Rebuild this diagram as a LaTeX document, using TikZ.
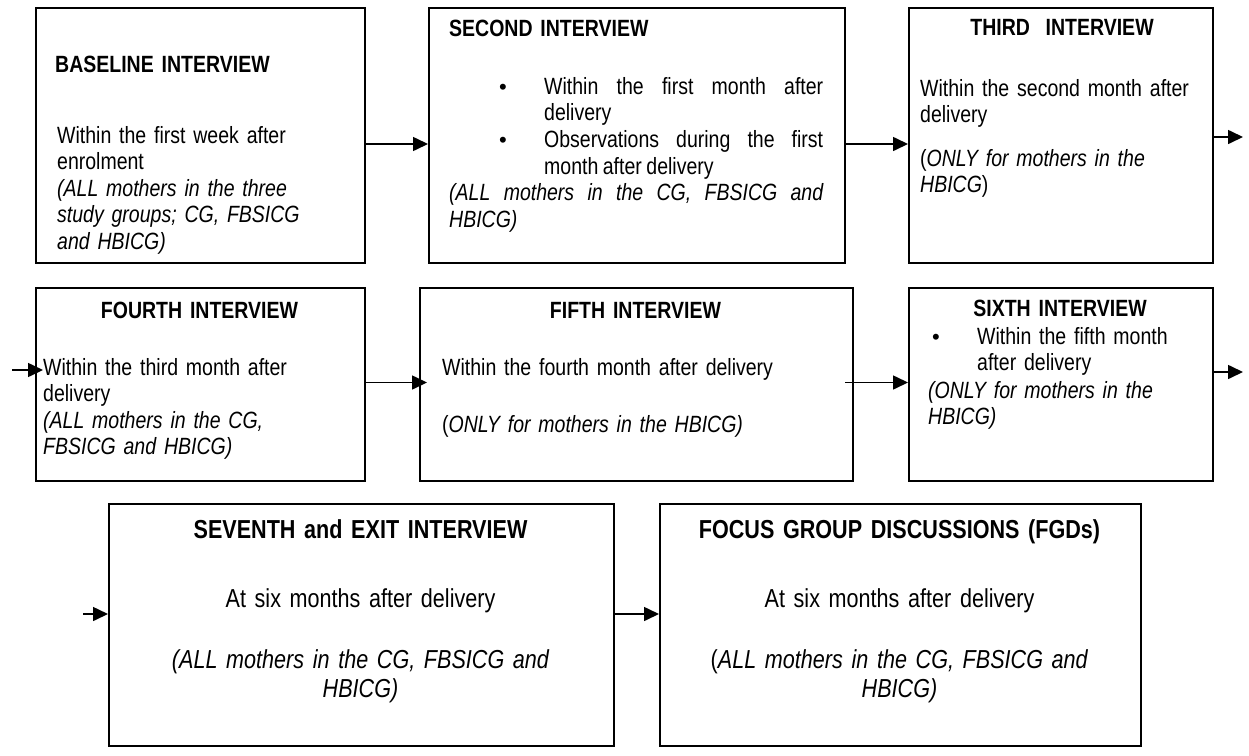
\documentclass[tikz,border=0pt]{standalone}
\usepackage{fontspec}
\setmainfont{Liberation Sans}[FakeStretch=0.83, WordSpace=0.83]
\newfontfamily\dotfont{Liberation Sans}
\usetikzlibrary{arrows.meta,calc}
\newcommand\fsmall{\fontsize{23.5}{26.6}\selectfont}
\newcommand\flarge{\fontsize{26}{29}\selectfont}
\newcommand\itemdot{\llap{\hbox to 45pt{\dotfont\fontsize{22}{22}\selectfont\char"2022\hfil}}}
\begin{document}
\begin{tikzpicture}[x=1pt,y=-1pt,
  stage/.style={draw, line width=2pt, rectangle, inner sep=0pt, anchor=north west},
  flow/.style={line width=1.6pt, -{Triangle[length=15pt,width=14pt]}},
  lefttext/.style={inner sep=0pt, anchor=base west, text width=#1, font=\fsmall,
    execute at begin node=\raggedright},
  lefttext/.default=390pt,
  justtext/.style={inner sep=0pt, anchor=base west, text width=#1, align=justify, font=\fsmall},
  midtext/.style={inner sep=0pt, anchor=base, text width=#1,
    execute at begin node=\centering},
]
\useasboundingbox[fill=white] (0,0) rectangle (1249,755);

% ---- stage boxes ----
\node[stage, minimum width=329pt, minimum height=255pt] (b1) at (35,7) {};
\node[stage, minimum width=416pt, minimum height=255pt] (b2) at (428,7) {};
\node[stage, minimum width=304pt, minimum height=255pt] (b3) at (908,7) {};
\node[stage, minimum width=329pt, minimum height=193pt] (b4) at (35,287) {};
\node[stage, minimum width=433pt, minimum height=193pt] (b5) at (419,287) {};
\node[stage, minimum width=304pt, minimum height=193pt] (b6) at (908,287) {};
\node[stage, minimum width=505pt, minimum height=242pt] (b7) at (108,503) {};
\node[stage, minimum width=481pt, minimum height=242pt] (b8) at (659,503) {};

% ---- baseline interview ----
\node[lefttext] (t1h) at (55,72) {\bfseries BASELINE INTERVIEW};
\node[lefttext] (t1b) at (57,143) {Within the first week after\\enrolment\\
  \itshape (ALL mothers in the three\\\itshape study groups; CG, FBSICG\\\itshape and HBICG)};

% ---- second interview ----
\node[lefttext] (t2h) at (449,36) {\bfseries SECOND INTERVIEW};
\node[justtext=279pt] (t2a) at (544,94) {\itemdot Within the first month after\linebreak delivery};
\node[justtext=279pt] (t2b) at (544,147.4) {\itemdot Observations during the first\linebreak month after delivery};
\node[justtext=374pt] (t2n) at (449,200.8) {\itshape (ALL mothers in the CG, FBSICG and\linebreak HBICG)};

% ---- third interview ----
\node[midtext=300pt, font=\fsmall\bfseries] (t3h) at (1062,35) {THIRD\ \ INTERVIEW};
\node[lefttext] (t3b) at (920,96) {Within the second month after\\delivery};
\node[lefttext] (t3n) at (920,166) {(\textit{ONLY for mothers in the}\\\textit{HBICG})};

% ---- fourth interview ----
\node[midtext=320pt, font=\fsmall\bfseries] (t4h) at (199.5,318) {FOURTH INTERVIEW};
\node[lefttext] (t4b) at (43,375) {Within the third month after\\delivery\\
  \itshape (ALL mothers in the CG,\\\itshape FBSICG and HBICG)};

% ---- fifth interview ----
\node[midtext=420pt, font=\fsmall\bfseries] (t5h) at (635.5,318) {FIFTH INTERVIEW};
\node[lefttext] (t5b) at (442,375) {Within the fourth month after delivery};
\node[lefttext] (t5n) at (442,432) {(\textit{ONLY for mothers in the HBICG)}};

% ---- sixth interview ----
\node[midtext=300pt, font=\fsmall\bfseries] (t6h) at (1060,316) {SIXTH INTERVIEW};
\node[lefttext=220pt] (t6a) at (977,344) {\itemdot Within the fifth month\\after delivery};
\node[lefttext] (t6n) at (928,398) {\itshape (ONLY for mothers in the\\\itshape HBICG)};

% ---- seventh and exit interview ----
\node[midtext=490pt, font=\flarge\bfseries] (t7h) at (360.5,538) {SEVENTH and EXIT INTERVIEW};
\node[midtext=490pt, font=\flarge] (t7a) at (360.5,607) {At six months after delivery};
\node[midtext=490pt, font=\flarge] (t7n) at (360.5,668) {\itshape (ALL mothers in the CG, FBSICG and\\\itshape HBICG)};

% ---- focus group discussions ----
\node[midtext=470pt, font=\flarge\bfseries] (t8h) at (899.5,538) {FOCUS GROUP DISCUSSIONS (FGDs)};
\node[midtext=470pt, font=\flarge] (t8a) at (899.5,607) {At six months after delivery};
\node[midtext=470pt, font=\flarge] (t8n) at (899.5,668) {(\textit{ALL mothers in the CG, FBSICG and}\\\textit{HBICG)}};

% ---- connector levels and free ends ----
\coordinate (r1) at (0,144);
\coordinate (r3) at (0,137);
\coordinate (r4) at (0,370);
\coordinate (r5) at (0,382.5);
\coordinate (r6) at (0,372);
\coordinate (r7) at (0,614);
\coordinate (e3) at (1243,137);
\coordinate (s4) at (12,370);
\coordinate (e6) at (1243,372);
\coordinate (s7) at (83,614);

% ---- connectors ----
\draw[flow] (b1.east |- r1) -- (b2.west |- r1);
\draw[flow] (b2.east |- r1) -- (b3.west |- r1);
\draw[flow] (b3.east |- r3) -- (e3);
\draw[flow] (s4) -- ($(b4.west |- r4)+(8,0)$);
\draw[flow] (b4.east |- r5) -- ($(b5.west |- r5)+(8,0)$);
\draw[flow] ($(b5.east |- r5)+(-9,0)$) -- (b6.west |- r5);
\draw[flow] (b6.east |- r6) -- (e6);
\draw[flow] (s7) -- (b7.west |- r7);
\draw[flow] (b7.east |- r7) -- (b8.west |- r7);
\end{tikzpicture}
\end{document}
